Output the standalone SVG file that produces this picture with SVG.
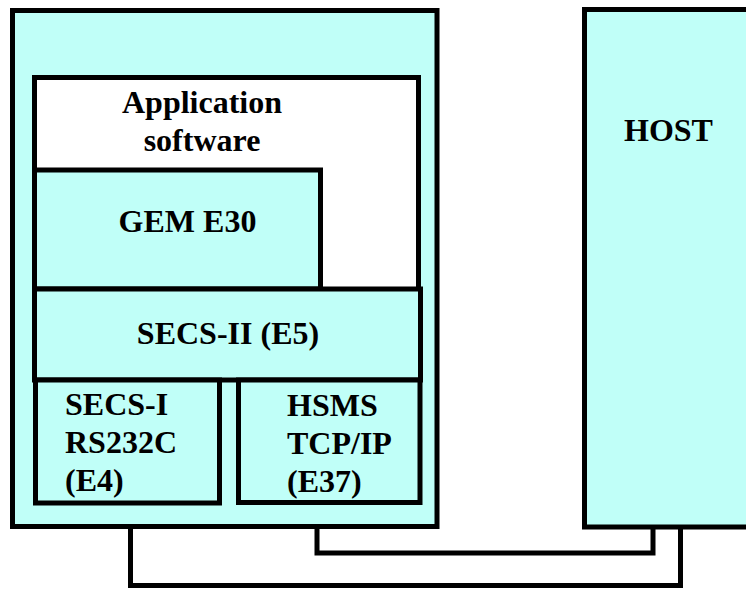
<svg xmlns="http://www.w3.org/2000/svg" width="746" height="589" viewBox="0 0 746 589">
<style>
.box{fill:#C0FFF8;stroke:#000;stroke-width:5}
.white{fill:#fff;stroke:#000;stroke-width:5}
.wire{fill:none;stroke:#000;stroke-width:5}
text{font-family:"Liberation Serif","Times New Roman",serif;font-weight:bold;font-size:32px;fill:#000}
.c{text-anchor:middle}
</style>
<rect width="746" height="589" fill="#fff"/>
<g id="connectors">
<path class="wire" d="M317,527 V553 H653 V527"/>
<path class="wire" d="M130.5,527 V585.5 H680.5 V527"/>
</g>
<g id="equipment">
<rect class="box" x="12.5" y="10.5" width="424.5" height="516"/>
</g>
<g id="application">
<rect class="white" x="34.5" y="77.5" width="384" height="212"/>
<text class="c" x="202" y="113">Application</text>
<text class="c" x="202" y="151">software</text>
</g>
<g id="gem">
<rect class="box" x="34.5" y="170" width="286" height="119"/>
<text class="c" x="187.5" y="232">GEM E30</text>
</g>
<g id="secs2">
<rect class="box" x="34.5" y="289" width="386" height="91"/>
<text class="c" x="228" y="344">SECS-II (E5)</text>
</g>
<g id="secs1">
<rect class="box" x="35.5" y="380" width="184" height="123"/>
<text x="65" y="415">SECS-I</text>
<text x="65" y="453">RS232C</text>
<text x="65" y="491">(E4)</text>
</g>
<g id="hsms">
<rect class="box" x="238.5" y="380" width="181.5" height="122.5"/>
<text x="287" y="416">HSMS</text>
<text x="287" y="454">TCP/IP</text>
<text x="287" y="492">(E37)</text>
</g>
<g id="host">
<rect class="box" x="584.5" y="9.5" width="180" height="517.5"/>
<text class="c" x="668.5" y="141">HOST</text>
</g>
</svg>
